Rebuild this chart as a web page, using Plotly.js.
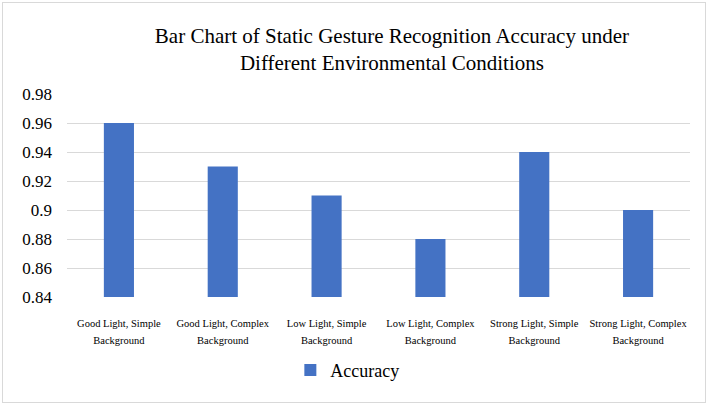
<!DOCTYPE html>
<html>
<head>
<meta charset="utf-8">
<script src="https://cdn.plot.ly/plotly-3.0.1.min.js"></script>
<style>
  html, body { margin: 0; padding: 0; background: #ffffff; }
  #frame { position: absolute; left: 2px; top: 2px; width: 704px; height: 401px; border: 1px solid #d9d9d9; box-sizing: border-box; }
  #chart { position: absolute; left: 0; top: 0; width: 710px; height: 407px; }
</style>
</head>
<body>
<div id="frame"></div>
<div id="chart"></div>
<script>
// Recognition accuracy per lighting / background condition
const conditions = [
  "Good Light, Simple Background",
  "Good Light, Complex Background",
  "Low Light, Simple Background",
  "Low Light, Complex Background",
  "Strong Light, Simple Background",
  "Strong Light, Complex Background"
];
const accuracy = [0.96, 0.93, 0.91, 0.88, 0.94, 0.90];
const axisFloor = 0.84;
const yTickValues = [0.84, 0.86, 0.88, 0.90, 0.92, 0.94, 0.96, 0.98];
const yTickLabels = ["0.84", "0.86", "0.88", "0.9", "0.92", "0.94", "0.96", "0.98"];

const serif = "Liberation Serif";

// two-line category labels: small glyphs inside a taller line box
const small = s => '<span style="font-size:10.5px">' + s + '</span>';
const xTickLabels = conditions.map(c => {
  const cut = c.lastIndexOf(" ");
  return small(c.slice(0, cut)) + "<br>" + small(c.slice(cut + 1));
});

// bars rise from the axis floor to each accuracy value
const trace = {
  type: "bar",
  name: "Accuracy",
  x: conditions,
  y: accuracy.map(v => v - axisFloor),
  base: axisFloor,
  customdata: accuracy,
  hovertemplate: "%{customdata}<extra></extra>",
  marker: { color: "#4472c4" }
};

const layout = {
  width: 710,
  height: 407,
  paper_bgcolor: "rgba(0,0,0,0)",
  plot_bgcolor: "rgba(0,0,0,0)",
  margin: { l: 67, r: 20, t: 94, b: 110 },
  title: {
    text: "Bar Chart of Static Gesture Recognition Accuracy under<br>Different Environmental Conditions",
    font: { family: serif, size: 21, color: "#000000" },
    x: 0.552,
    xanchor: "center",
    y: 0.895,
    yanchor: "top"
  },
  bargap: 0.71,
  xaxis: {
    type: "category",
    tickvals: conditions,
    ticktext: xTickLabels,
    showgrid: false,
    showline: false,
    zeroline: false,
    ticks: "",
    tickangle: 0,
    tickfont: { family: serif, size: 13, color: "#000000" },
    ticklabelstandoff: 16
  },
  yaxis: {
    range: [0.84, 0.98],
    tickvals: yTickValues,
    ticktext: yTickLabels,
    showgrid: true,
    gridcolor: "#d9d9d9",
    gridwidth: 1,
    zeroline: false,
    showline: false,
    ticks: "",
    tickfont: { family: serif, size: 17, color: "#000000" },
    ticklabelstandoff: 14
  },
  showlegend: true,
  legend: {
    orientation: "h",
    x: 0.45,
    xanchor: "center",
    y: -0.27,
    yanchor: "top",
    font: { family: serif, size: 18, color: "#000000" },
    itemwidth: 30
  }
};

Plotly.newPlot("chart", [trace], layout, { displayModeBar: false, staticPlot: true });
</script>
</body>
</html>
